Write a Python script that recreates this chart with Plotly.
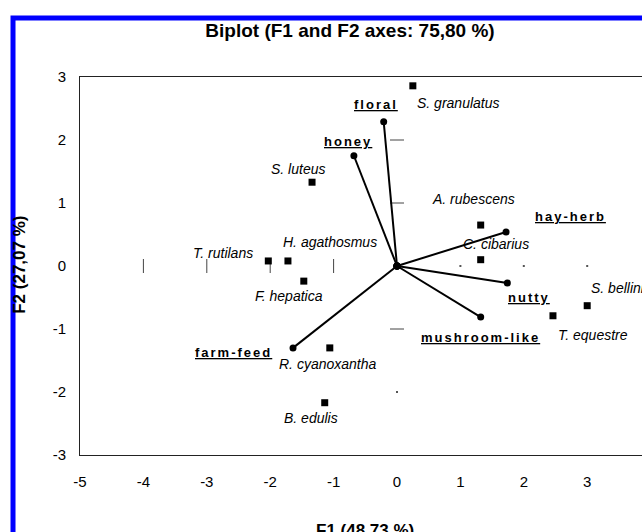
import plotly.graph_objects as go

# Observations (species scores on F1/F2)
species = ["S. granulatus", "S. luteus", "T. rutilans", "H. agathosmus", "F. hepatica",
           "A. rubescens", "C. cibarius", "S. bellinii", "T. equestre",
           "R. cyanoxantha", "B. edulis"]
species_f1 = [0.25, -1.34, -2.03, -1.72, -1.47, 1.32, 1.32, 3.00, 2.46, -1.06, -1.14]
species_f2 = [2.86, 1.33, 0.08, 0.08, -0.24, 0.65, 0.10, -0.63, -0.79, -1.30, -2.17]

# Variables (descriptor loadings on F1/F2)
descriptors = ["floral", "honey", "hay-herb", "nutty", "mushroom-like", "farm-feed"]
desc_f1 = [-0.21, -0.68, 1.72, 1.74, 1.32, -1.64]
desc_f2 = [2.29, 1.75, 0.54, -0.27, -0.81, -1.30]

# Axis scale
x_ticks = [-5, -4, -3, -2, -1, 0, 1, 2, 3]
y_ticks = [-3, -2, -1, 0, 1, 2, 3]
x_cross_ticks = [-4, -3, -2, -1]
x_cross_dots = [1, 2, 3]
y_cross_ticks = [-1, 1, 2]
y_cross_dots = [-2]

FONT = "Arial, 'Liberation Sans', sans-serif"

# Label placement: (xanchor, xshift px, yshift px)
species_place = {
    "S. granulatus": ("left", 2, -17),
    "S. luteus": ("center", -14, 13),
    "T. rutilans": ("right", -13, 8),
    "H. agathosmus": ("left", -7, 19),
    "F. hepatica": ("center", -15, -15),
    "A. rubescens": ("center", -7, 26),
    "C. cibarius": ("left", -20, 16),
    "S. bellinii": ("left", 2, 18),
    "T. equestre": ("left", 3, -19),
    "R. cyanoxantha": ("center", -2, -16),
    "B. edulis": ("center", -14, -15),
}
desc_place = {
    "floral": ("center", -8, 17),
    "honey": ("center", -6, 14),
    "hay-herb": ("left", 27, 15),
    "nutty": ("left", -1, -14),
    "mushroom-like": ("center", 0, -20),
    "farm-feed": ("right", -19, -5),
}

fig = go.Figure()

# Ticks drawn where the axes cross the origin
fig.add_trace(go.Scatter(
    x=x_cross_ticks, y=[0] * len(x_cross_ticks), mode="markers",
    marker=dict(symbol="line-ns", size=10, line=dict(width=1, color="#444")),
    hoverinfo="skip", showlegend=False))
fig.add_trace(go.Scatter(
    x=[0] * len(y_cross_ticks), y=y_cross_ticks, mode="markers",
    marker=dict(symbol="line-ew", size=10, line=dict(width=1, color="#444")),
    hoverinfo="skip", showlegend=False))
fig.add_trace(go.Scatter(
    x=x_cross_dots + [0] * len(y_cross_dots),
    y=[0] * len(x_cross_dots) + y_cross_dots, mode="markers",
    marker=dict(symbol="square", size=2, color="#555"),
    hoverinfo="skip", showlegend=False))

# Descriptor vectors from the origin
vx, vy = [], []
for a, b in zip(desc_f1, desc_f2):
    vx += [0, a, None]
    vy += [0, b, None]
fig.add_trace(go.Scatter(
    x=vx, y=vy, mode="lines+markers",
    line=dict(color="black", width=2),
    marker=dict(symbol="circle", size=7, color="black"),
    hoverinfo="skip", showlegend=False))

# Species points
fig.add_trace(go.Scatter(
    x=species_f1, y=species_f2, mode="markers",
    marker=dict(symbol="square", size=7, color="black"),
    text=species, hoverinfo="text", showlegend=False))

annotations = []
for name, a, b in zip(species, species_f1, species_f2):
    xa, dx, dy = species_place[name]
    annotations.append(dict(
        x=a, y=b, xref="x", yref="y", text=f"<i>{name}</i>", showarrow=False,
        xanchor=xa, yanchor="middle", xshift=dx, yshift=dy,
        font=dict(family=FONT, size=14, color="black")))
for name, a, b in zip(descriptors, desc_f1, desc_f2):
    xa, dx, dy = desc_place[name]
    annotations.append(dict(
        x=a, y=b, xref="x", yref="y",
        text=f"<span style='letter-spacing:2px;text-decoration:underline'><b>{name}</b></span>",
        showarrow=False, xanchor=xa, yanchor="middle", xshift=dx, yshift=dy,
        font=dict(family=FONT, size=13, color="black")))

# Axis titles
annotations.append(dict(
    x=0.507, y=-0.168, xref="paper", yref="paper", text="<b>F1 (48,73 %)</b>",
    showarrow=False, xanchor="center", yanchor="top",
    font=dict(family=FONT, size=17, color="black")))
annotations.append(dict(
    x=-0.108, y=0.504, xref="paper", yref="paper", text="<b>F2 (27,07 %)</b>",
    showarrow=False, xanchor="center", yanchor="middle", textangle=-90,
    font=dict(family=FONT, size=17, color="black")))

fig.update_layout(
    width=642, height=532,
    margin=dict(l=80, r=0, t=77, b=77),
    paper_bgcolor="white", plot_bgcolor="white",
    title=dict(text="<b>Biplot (F1 and F2 axes: 75,80 %)</b>", x=350 / 642, xanchor="center",
               xref="container", y=1 - 30 / 532, yref="container", yanchor="middle",
               font=dict(family=FONT, size=19, color="black")),
    annotations=annotations,
    shapes=[dict(type="rect", xref="paper", yref="paper",
                 x0=-0.1192, y0=-1.0, x1=2.0, y1=1.156,
                 line=dict(color="#0000ff", width=5), layer="above")],
)
fig.update_xaxes(
    range=[-5, -5 + (642 - 80) / 63.4], tickvals=x_ticks, ticktext=[str(t) for t in x_ticks],
    showgrid=False, zeroline=False, showline=True, linecolor="#222", linewidth=1,
    mirror=True, ticks="outside", ticklen=13, tickcolor="rgba(0,0,0,0)",
    tickfont=dict(family=FONT, size=15, color="black"))
fig.update_yaxes(
    range=[-3, 3], tickvals=y_ticks, ticktext=[str(t) for t in y_ticks],
    showgrid=False, zeroline=False, showline=True, linecolor="#222", linewidth=1,
    mirror=False, ticks="outside", ticklen=10, tickcolor="rgba(0,0,0,0)",
    tickfont=dict(family=FONT, size=15, color="black"))

fig.write_html("out.html")
